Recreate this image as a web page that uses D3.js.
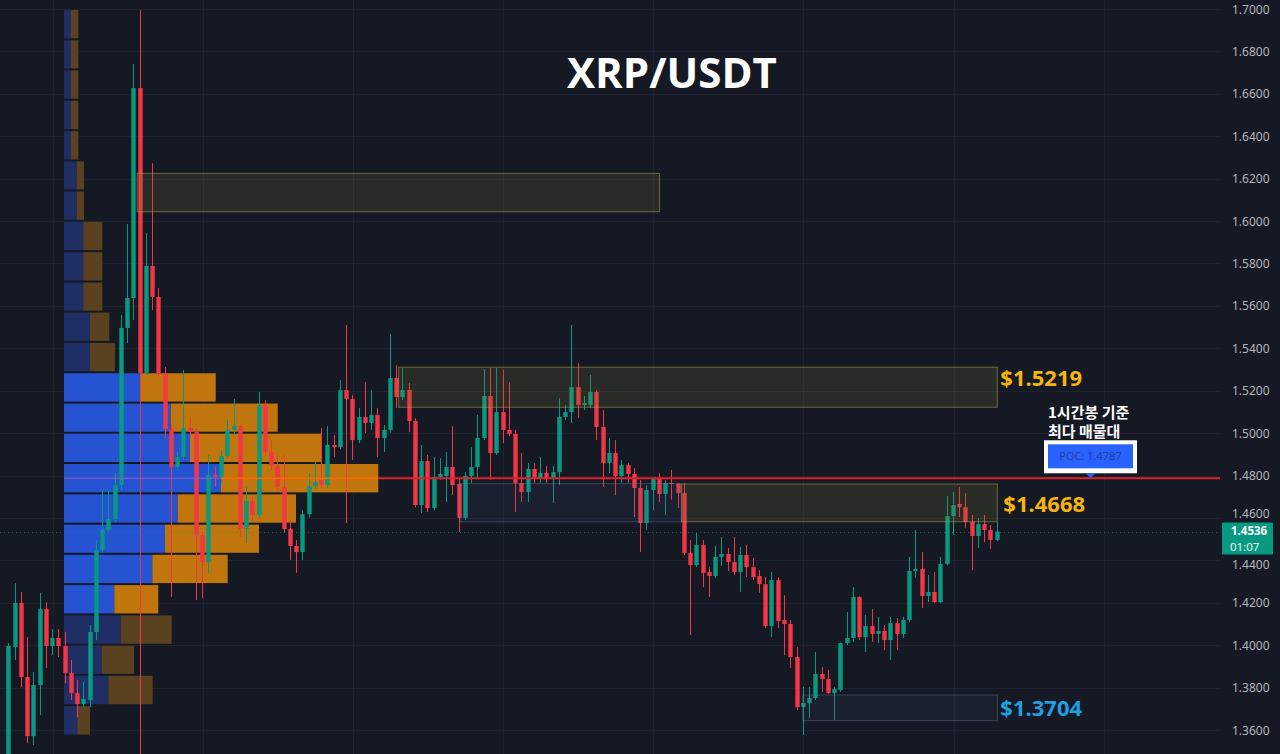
<!DOCTYPE html>
<html><head><meta charset="utf-8">
<script src="https://cdn.jsdelivr.net/npm/d3@7"></script>
<style>html,body{margin:0;padding:0;background:#151924;overflow:hidden}</style>
</head><body><svg id="c" width="1280" height="754"></svg>
<script>
// ---- data (1h candles, XRP/USDT) ----
const opens=[1.3440,1.3991,1.4199,1.3850,1.3571,1.3812,1.4170,1.3996,1.4034,1.3996,1.3869,1.3774,1.3722,1.3741,1.4062,1.4449,1.4543,1.4595,1.4755,1.5496,
1.5637,1.6627,1.5283,1.5788,1.5642,1.5283,1.5019,1.4840,1.4887,1.5024,1.5005,1.4519,1.4392,1.4802,1.4793,1.4892,1.5015,1.5033,1.4548,1.4680,
1.4614,1.5132,1.4911,1.4845,1.4746,1.4548,1.4468,1.4439,1.4618,1.4750,1.4779,1.4755,1.4944,1.4934,1.5203,1.5161,1.4967,1.5076,1.5048,1.5085,
1.4977,1.5015,1.5260,1.5170,1.5203,1.5057,1.4661,1.4868,1.4647,1.4793,1.4798,1.4840,1.4760,1.4600,1.4798,1.4840,1.4977,1.5175,1.4906,1.5099,
1.5015,1.4996,1.4765,1.4722,1.4831,1.4788,1.4812,1.4783,1.4816,1.5076,1.5099,1.5217,1.5132,1.5132,1.5194,1.5029,1.4859,1.4906,1.4798,1.4849,
1.4807,1.4741,1.4576,1.4732,1.4788,1.4713,1.4765,1.4762,1.4717,1.4435,1.4378,1.4472,1.4345,1.4326,1.4416,1.4430,1.4392,1.4345,1.4425,1.4368,
1.4326,1.4288,1.4090,1.4307,1.4119,1.4100,1.3944,1.3708,1.3727,1.3751,1.3864,1.3840,1.3774,1.3788,1.4010,1.4034,1.4227,1.4038,1.4090,1.4053,
1.4067,1.4024,1.4104,1.4053,1.4119,1.4350,1.4359,1.4232,1.4251,1.4203,1.4383,1.4609,1.4666,1.4651,1.4581,1.4515,1.4571,1.4543,1.4496];
const highs=[1.4010,1.4293,1.4251,1.4038,1.3873,1.4246,1.4203,1.4076,1.4076,1.4062,1.3930,1.3836,1.3826,1.4095,1.4496,1.4732,1.4732,1.4812,1.5557,1.5986,
1.6741,1.6995,1.5944,1.6274,1.5684,1.5312,1.5038,1.4911,1.5298,1.5076,1.5024,1.4534,1.4897,1.4840,1.4920,1.5062,1.5161,1.5038,1.4746,1.4699,
1.5194,1.5156,1.4967,1.4906,1.4897,1.4590,1.4496,1.4637,1.4812,1.4864,1.5024,1.5033,1.4991,1.5250,1.5510,1.5180,1.5118,1.5241,1.5203,1.5118,
1.5038,1.5467,1.5321,1.5307,1.5236,1.5071,1.4944,1.4897,1.4887,1.4882,1.4911,1.5033,1.4788,1.4816,1.4934,1.5085,1.5302,1.5307,1.5307,1.5298,
1.5241,1.5015,1.4906,1.4859,1.4859,1.4887,1.4845,1.4845,1.5165,1.5132,1.5510,1.5331,1.5175,1.5274,1.5203,1.5109,1.4977,1.4967,1.4873,1.4859,
1.4835,1.4779,1.4755,1.4793,1.4812,1.4779,1.4826,1.4765,1.4765,1.4496,1.4529,1.4496,1.4368,1.4468,1.4510,1.4458,1.4510,1.4463,1.4472,1.4411,
1.4354,1.4321,1.4345,1.4321,1.4236,1.4119,1.3991,1.3803,1.3803,1.3968,1.3897,1.3883,1.3803,1.4012,1.4156,1.4274,1.4232,1.4142,1.4170,1.4133,
1.4095,1.4133,1.4128,1.4133,1.4416,1.4543,1.4439,1.4331,1.4345,1.4416,1.4703,1.4722,1.4746,1.4717,1.4614,1.4600,1.4614,1.4567,1.4581];
const lows=[1.3410,1.3930,1.3803,1.3538,1.3529,1.3671,1.3892,1.3953,1.3944,1.3821,1.3741,1.3661,1.3708,1.3708,1.4024,1.4435,1.4534,1.4581,1.4732,1.5425,
1.5533,1.3400,1.5274,1.5580,1.5269,1.4977,1.4227,1.4826,1.4873,1.4991,1.4213,1.4222,1.4340,1.4746,1.4765,1.4882,1.4991,1.4510,1.4482,1.4590,
1.4600,1.4892,1.4826,1.4732,1.4529,1.4402,1.4340,1.4402,1.4600,1.4736,1.4741,1.4741,1.4887,1.4925,1.4576,1.4873,1.4953,1.5000,1.5015,1.4887,
1.4911,1.5000,1.5118,1.5156,1.5005,1.4651,1.4623,1.4628,1.4637,1.4779,1.4675,1.4708,1.4534,1.4590,1.4765,1.4788,1.4967,1.4779,1.4897,1.4953,
1.4986,1.4628,1.4675,1.4675,1.4765,1.4765,1.4765,1.4670,1.4755,1.5062,1.5048,1.5071,1.5109,1.5118,1.4967,1.4746,1.4812,1.4708,1.4765,1.4765,
1.4604,1.4439,1.4543,1.4637,1.4675,1.4614,1.4686,1.4647,1.4425,1.4048,1.4368,1.4274,1.4227,1.4317,1.4373,1.4350,1.4331,1.4251,1.4321,1.4307,
1.4246,1.4081,1.4038,1.4081,1.3953,1.3892,1.3694,1.3576,1.3656,1.3741,1.3779,1.3770,1.3647,1.3779,1.4001,1.4015,1.4024,1.3968,1.4015,1.4010,
1.3977,1.3930,1.3977,1.4034,1.4109,1.4317,1.4175,1.4203,1.4199,1.4199,1.4378,1.4519,1.4604,1.4552,1.4354,1.4458,1.4486,1.4453,1.4491];
const closes=[1.3996,1.4199,1.3850,1.3571,1.3812,1.4170,1.3996,1.4034,1.3996,1.3869,1.3774,1.3722,1.3746,1.4062,1.4449,1.4543,1.4595,1.4755,1.5496,1.5637,
1.6627,1.5283,1.5788,1.5642,1.5283,1.5019,1.4840,1.4887,1.5024,1.5005,1.4519,1.4392,1.4802,1.4793,1.4892,1.5015,1.5033,1.4548,1.4680,1.4614,
1.5132,1.4911,1.4845,1.4746,1.4548,1.4468,1.4439,1.4618,1.4750,1.4769,1.4755,1.4944,1.4934,1.5203,1.5161,1.4967,1.5076,1.5048,1.5085,1.4977,
1.5015,1.5260,1.5170,1.5203,1.5057,1.4661,1.4868,1.4647,1.4793,1.4807,1.4840,1.4755,1.4600,1.4798,1.4840,1.4977,1.5175,1.4906,1.5099,1.5015,
1.4996,1.4765,1.4722,1.4831,1.4788,1.4812,1.4783,1.4816,1.5076,1.5099,1.5217,1.5132,1.5142,1.5194,1.5029,1.4859,1.4906,1.4798,1.4849,1.4807,
1.4741,1.4576,1.4732,1.4788,1.4713,1.4765,1.4762,1.4717,1.4435,1.4378,1.4472,1.4340,1.4326,1.4416,1.4430,1.4392,1.4345,1.4425,1.4368,1.4321,
1.4288,1.4090,1.4307,1.4114,1.4100,1.3944,1.3708,1.3727,1.3751,1.3864,1.3840,1.3774,1.3793,1.4010,1.4034,1.4227,1.4038,1.4090,1.4053,1.4067,
1.4024,1.4104,1.4053,1.4119,1.4350,1.4359,1.4232,1.4251,1.4203,1.4383,1.4609,1.4661,1.4651,1.4581,1.4515,1.4571,1.4543,1.4496,1.4536];

// volume profile (24 price rows, top to bottom)
const profileEdges=[1.7000,1.6857,1.6715,1.6572,1.6429,1.6286,1.6144,1.6001,1.5858,1.5715,1.5573,1.5430,1.5287,
1.5144,1.5002,1.4859,1.4716,1.4573,1.4431,1.4288,1.4145,1.4002,1.3860,1.3717,1.3574];
const upVolume=[7,7,7,7,7,12.7,12.7,19.3,19.3,19.3,26,26,76,106.7,126,157,113.7,101,88.3,50.3,56.7,37.7,44.3,13.3];
const downVolume=[7.3,7.3,7.3,7.3,7.3,7.3,7.3,19,19,19,19.3,25,75.7,107,131.7,157.3,118.3,94,75.4,44,51,32.3,44.4,12.7];
const valueAreaRows=[12,13,14,15,16,17,18,19];
const pocPrice=1.4787;
const lastPrice=1.4536;
const countdown="01:07";

const yTicks=[1.36,1.38,1.40,1.42,1.44,1.46,1.48,1.50,1.52,1.54,1.56,1.58,1.60,1.62,1.64,1.66,1.68,1.70];
const gridIdx=[7.1,31.1,55.1,79.1,103.1,127.1,151.1,175.1];

// zones: price top/bottom, start/end candle index
const zoneTop=[1.6225,1.5311,1.4760,1.4762,1.3765];
const zoneBottom=[1.6044,1.5122,1.4582,1.4582,1.3644];
const zoneStart=[20.6,62.4,107.6,72.2,127.0];
const zoneEnd=[104.1,158.1,158.1,107.6,158.1];
const zoneKind=["olive","olive","olive","blue","blue"];
const zoneLabels=["","$1.5219","$1.4668","","$1.3704"];
const zoneLabelPrice=[0,1.5260,1.4668,0,1.3704];
const zoneLabelColor=["","#f5b50a","#f5b50a","","#1e9fe0"];

// ---- drawing ----
const W=1280,H=754,plotRight=1220;
const svg=d3.select("#c");
const y=d3.scaleLinear().domain([1.36,1.70]).range([730,9]);
const x=d3.scaleLinear().domain([0,158]).range([8.3,996.7]);
const maxVol=d3.max(upVolume.map((u,i)=>u+downVolume[i]));
const vx=d3.scaleLinear().domain([0,maxVol]).range([64,378.3]);

svg.append("rect").attr("width",W).attr("height",H).attr("fill","#151924");
svg.append("defs").append("clipPath").attr("id","plot").append("rect").attr("x",0).attr("y",0).attr("width",plotRight).attr("height",H);

// grid
const grid=svg.append("g").attr("stroke","#1e2230").attr("stroke-width",1);
grid.selectAll("line.h").data(yTicks).join("line").attr("class","h")
 .attr("x1",0).attr("x2",plotRight).attr("y1",d=>Math.round(y(d))+0.5).attr("y2",d=>Math.round(y(d))+0.5);
grid.selectAll("line.v").data(gridIdx).join("line").attr("class","v")
 .attr("y1",0).attr("y2",H).attr("x1",d=>Math.round(x(d))+0.5).attr("x2",d=>Math.round(x(d))+0.5);

// title
svg.append("text").attr("x",672).attr("y",88).attr("text-anchor","middle")
 .attr("font-family","'Open Sans',sans-serif").attr("font-weight",700).attr("font-size",42)
 .attr("fill","#ffffff").text("XRP/USDT");

// volume profile
const prof=svg.append("g");
const rows=upVolume.map((u,i)=>({i,u,d:downVolume[i],top:profileEdges[i],bot:profileEdges[i+1],va:valueAreaRows.includes(i)}));
prof.selectAll("rect.up").data(rows).join("rect").attr("class","up")
 .attr("x",vx(0)).attr("y",d=>y(d.top)+1).attr("height",d=>y(d.bot)-y(d.top)-2)
 .attr("width",d=>vx(d.u)-vx(0)).attr("fill",d=>d.va?"#2553d2":"#1f2f66");
prof.selectAll("rect.dn").data(rows).join("rect").attr("class","dn")
 .attr("x",d=>vx(d.u)).attr("y",d=>y(d.top)+1).attr("height",d=>y(d.bot)-y(d.top)-2)
 .attr("width",d=>vx(d.u+d.d)-vx(d.u)).attr("fill",d=>d.va?"#c0760d":"#5a4220");

// candles
const candles=opens.map((o,i)=>({i,o,h:highs[i],l:lows[i],c:closes[i]}));
const cg=svg.append("g").attr("clip-path","url(#plot)");
const col=d=>d.c>=d.o?"#089981":"#f23645";
cg.selectAll("line.w").data(candles).join("line").attr("class","w")
 .attr("x1",d=>Math.round(x(d.i))+0.5).attr("x2",d=>Math.round(x(d.i))+0.5)
 .attr("y1",d=>y(d.h)).attr("y2",d=>y(d.l)).attr("stroke",col).attr("stroke-width",1);
cg.selectAll("rect.b").data(candles).join("rect").attr("class","b")
 .attr("x",d=>Math.round(x(d.i))+0.5-2.2).attr("width",4.4)
 .attr("y",d=>y(Math.max(d.o,d.c))).attr("height",d=>Math.max(1,Math.abs(y(d.o)-y(d.c))))
 .attr("fill",col);

// zones
const zones=zoneTop.map((t,i)=>({t,b:zoneBottom[i],s:zoneStart[i],e:zoneEnd[i],k:zoneKind[i],lab:zoneLabels[i],lp:zoneLabelPrice[i],lc:zoneLabelColor[i]}));
svg.append("g").selectAll("rect").data(zones).join("rect")
 .attr("x",d=>x(d.s)).attr("width",d=>x(d.e)-x(d.s))
 .attr("y",d=>y(d.t)).attr("height",d=>y(d.b)-y(d.t))
 .attr("fill",d=>d.k==="olive"?"rgba(125,115,55,0.2)":"rgba(70,95,140,0.11)")
 .attr("stroke",d=>d.k==="olive"?"rgba(175,160,85,0.55)":"rgba(110,130,165,0.4)").attr("stroke-width",1);
svg.append("g").selectAll("text").data(zones.filter(d=>d.lab)).join("text")
 .attr("x",d=>x(d.e)+(d.lab==="$1.4668"?6:3)).attr("y",d=>y(d.lp)+8)
 .attr("font-family","'Open Sans',sans-serif").attr("font-weight",700).attr("font-size",22)
 .attr("fill",d=>d.lc).text(d=>d.lab);

// POC line
const py=y(pocPrice);
const pocRow=rows.find(r=>pocPrice<=r.top&&pocPrice>r.bot);
svg.append("line").attr("x1",vx(0)).attr("x2",vx(pocRow.u)).attr("y1",py).attr("y2",py).attr("stroke","#8b5cc8").attr("stroke-width",1.5).attr("opacity",0.8);
svg.append("line").attr("x1",vx(pocRow.u)).attr("x2",vx(pocRow.u+pocRow.d)).attr("y1",py).attr("y2",py).attr("stroke","#ff6a00").attr("stroke-width",1.5);
svg.append("line").attr("x1",vx(pocRow.u+pocRow.d)).attr("x2",plotRight).attr("y1",py).attr("y2",py).attr("stroke","#e0202a").attr("stroke-width",2);

// current price dotted line
svg.append("line").attr("x1",0).attr("x2",plotRight).attr("y1",Math.round(y(lastPrice))+0.5).attr("y2",Math.round(y(lastPrice))+0.5)
 .attr("stroke","#089981").attr("stroke-opacity",0.6).attr("stroke-dasharray","1,3");

// POC annotation
const ax=1090.5;
svg.append("text").attr("x",1048).attr("y",py-60).attr("font-family","'Noto Sans CJK KR',sans-serif").attr("font-weight",700)
 .attr("font-size",15).attr("fill","#ffffff").text("1시간봉 기준");
svg.append("text").attr("x",1048).attr("y",py-41).attr("font-family","'Noto Sans CJK KR',sans-serif").attr("font-weight",700)
 .attr("font-size",15).attr("fill","#ffffff").text("최다 매물대");
svg.append("rect").attr("x",ax-46.5).attr("y",py-38).attr("width",93).attr("height",33).attr("fill","#ffffff");
svg.append("rect").attr("x",ax-42.5).attr("y",py-34).attr("width",85).attr("height",24).attr("fill","#2962ff");
svg.append("path").attr("d",`M${ax-5},${py-5}L${ax+5},${py-5}L${ax},${py}Z`).attr("fill","#2962ff");
svg.append("text").attr("x",ax).attr("y",py-18).attr("text-anchor","middle").attr("font-family","'Noto Sans',sans-serif")
 .attr("font-size",11).attr("fill","#1d3f9e").text("POC: "+d3.format(".4f")(pocPrice));

// y axis labels (those next to the last-price tag are nudged away from it)
const ly=y(lastPrice);
svg.append("g").selectAll("text").data(yTicks).join("text")
 .attr("x",1232).attr("y",d=>{const t=y(d)+4.5; if(Math.abs(y(d)-ly)<40){return y(d)<ly? t-4 : t+4;} return t;})
 .attr("font-family","'Noto Sans',sans-serif").attr("font-size",12)
 .attr("fill","#b2b5be").text(d=>d3.format(".4f")(d));

// last price tag
svg.append("rect").attr("x",1222).attr("y",ly-9).attr("width",51).attr("height",32).attr("rx",1).attr("fill","#089981");
svg.append("text").attr("x",1231).attr("y",ly+3.5).attr("font-family","'Noto Sans',sans-serif").attr("font-weight",700).attr("font-size",11.5)
 .attr("fill","#ffffff").text(d3.format(".4f")(lastPrice));
svg.append("text").attr("x",1230).attr("y",ly+19.5).attr("font-family","'Noto Sans',sans-serif").attr("font-size",11.5)
 .attr("fill","#e6f5f1").text(countdown);
</script></body></html>
